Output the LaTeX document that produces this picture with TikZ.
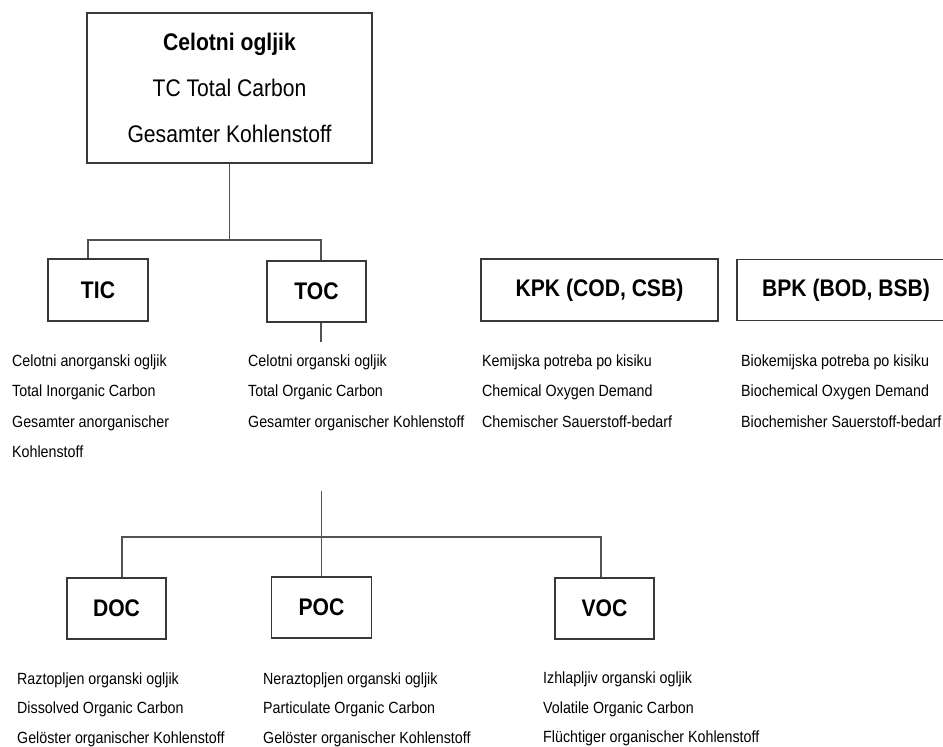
\documentclass[tikz,border=0pt]{standalone}
\usepackage{fontspec}
\setmainfont{Liberation Sans}
\newfontfamily\narrowsans[FakeStretch=0.88]{Liberation Sans}

\tikzset{
  cbox/.style={draw=black!78, line width=1.8pt, inner sep=0pt,
    font=\narrowsans\bfseries\fontsize{24}{28}\selectfont},
  desc/.style={anchor=north west, inner sep=0pt, align=left,
    font=\narrowsans\fontsize{16.2}{30.5}\selectfont},
  link/.style={draw=black!68, line width=1.8pt},
}

\begin{document}
\begin{tikzpicture}[x=1pt, y=-1pt]
    \useasboundingbox (0,0) rectangle (943,747);
    \clip (0,0) rectangle (943,747);

    % total carbon
    \node[cbox, font=\narrowsans\fontsize{24}{46}\selectfont, align=center,
      minimum width=285pt, minimum height=150pt] (tc) at (229.5,88)
      {\textbf{Celotni ogljik}\\TC Total Carbon\\Gesamter Kohlenstoff};

    % first row
    \node[cbox, minimum width=100pt, minimum height=62pt] (tic) at (98,290) {TIC};
    \node[cbox, minimum width=99pt, minimum height=61pt] (toc) at (316.5,291.5) {TOC};
    \node[cbox, minimum width=237pt, minimum height=62pt] (kpk) at (599.5,290) {KPK (COD, CSB)};
    \node[cbox, minimum width=218pt, minimum height=61pt] (bpk) at (846,290) {BPK (BOD, BSB)};

    \node[desc] (tictxt) at (12,354.3) {Celotni anorganski ogljik\\Total Inorganic Carbon\\Gesamter anorganischer\\Kohlenstoff};
    \node[desc] (toctxt) at (248,354.3) {Celotni organski ogljik\\Total Organic Carbon\\Gesamter organischer Kohlenstoff};
    \node[desc] (kpktxt) at (482,354.3) {Kemijska potreba po kisiku\\Chemical Oxygen Demand\\Chemischer Sauerstoff-bedarf};
    \node[desc] (bpktxt) at (741,354.3) {Biokemijska potreba po kisiku\\Biochemical Oxygen Demand\\Biochemisher Sauerstoff-bedarf};

    % second row
    \node[cbox, minimum width=99pt, minimum height=61pt] (doc) at (116.5,608.5) {DOC};
    \node[cbox, minimum width=100pt, minimum height=61pt] (poc) at (321.5,607.5) {POC};
    \node[cbox, minimum width=99pt, minimum height=61pt] (voc) at (604.5,608.5) {VOC};

    \node[desc, font=\narrowsans\fontsize{16.2}{29.5}\selectfont] (doctxt) at (17,672.3) {Raztopljen organski ogljik\\Dissolved Organic Carbon\\Gelöster organischer Kohlenstoff};
    \node[desc, font=\narrowsans\fontsize{16.2}{29.5}\selectfont] (poctxt) at (263,672.3) {Neraztopljen organski ogljik\\Particulate Organic Carbon\\Gelöster organischer Kohlenstoff};
    \node[desc, font=\narrowsans\fontsize{16.2}{29.5}\selectfont] (voctxt) at (543,671.8) {Izhlapljiv organski ogljik\\Volatile Organic Carbon\\Flüchtiger organischer Kohlenstoff};

    % connectors
    \coordinate (bar1) at (229.5,240);
    \draw[link] (tc.south) -- (bar1);
    \draw[link] ([xshift=-10pt]tic.north) |- (bar1) -| ([xshift=4.5pt]toc.north);

    \coordinate (tocend) at (321,342);
    \draw[link] ([xshift=4.5pt]toc.south) -- (tocend);

    \coordinate (split) at (321.5,491);
    \coordinate (bar2) at (321.5,537);
    \draw[link] (split) -- (poc.north);
    \draw[link] ([xshift=5.5pt]doc.north) |- (bar2) -| ([xshift=-3.5pt]voc.north);
\end{tikzpicture}
\end{document}
